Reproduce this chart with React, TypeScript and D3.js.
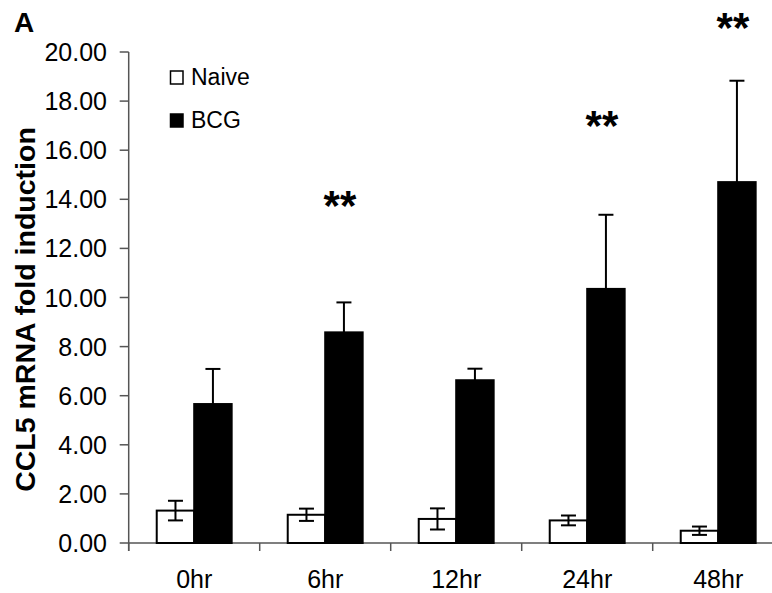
import React from "react";
import * as d3 from "d3";

const categories = ["0hr", "6hr", "12hr", "24hr", "48hr"];
const seriesNames = ["Naive", "BCG"];
const naiveValues = [1.32, 1.15, 0.98, 0.92, 0.5];
const naiveErrors = [0.4, 0.25, 0.43, 0.2, 0.17];
const bcgValues = [5.66, 8.58, 6.63, 10.35, 14.7];
const bcgErrors = [1.43, 1.22, 0.47, 3.02, 4.13];
const sigLabels = ["", "**", "", "**", "**"];
const sigLevels = [0, 14.05, 0, 17.3, 21.3];
const yTicks = [0, 2, 4, 6, 8, 10, 12, 14, 16, 18, 20];

const W = 772;
const H = 593;
const FONT = "'Liberation Sans', Arial, Helvetica, sans-serif";

export default function App() {
  const left = 128.7;
  const y0 = 543;
  const yTop = 52;
  const step = 131;
  const y = d3.scaleLinear().domain([0, 20]).range([y0, yTop]);
  const x = d3
    .scaleBand<string>()
    .domain(categories)
    .range([left, left + step * categories.length])
    .paddingInner(0.428)
    .paddingOuter(0.214);
  const xs = d3.scaleBand<string>().domain(seriesNames).range([0, x.bandwidth()]);
  const series = [
    { name: "Naive", values: naiveValues, errors: naiveErrors, fill: "#ffffff" },
    { name: "BCG", values: bcgValues, errors: bcgErrors, fill: "#000000" },
  ];
  const capW = 15;
  const axisColor = "#555";

  return (
    <svg
      width={W}
      height={H}
      style={{ position: "absolute", left: 0, top: 0, background: "#fff" }}
      fontFamily={FONT}
    >
      <rect x={0} y={0} width={W} height={H} fill="#fff" />
      {/* panel letter */}
      <text x={14} y={32} fontSize={28} fontWeight="bold">A</text>

      {/* y axis */}
      <line x1={left} x2={left} y1={y(20)} y2={y0 + 8} stroke={axisColor} strokeWidth={1.5} />
      {yTicks.map((t) => (
        <g key={t}>
          <line x1={left - 9} x2={left} y1={y(t)} y2={y(t)} stroke={axisColor} strokeWidth={1.5} />
          <text x={107} y={y(t)} dy="0.36em" textAnchor="end" fontSize={25}>
            {t.toFixed(2)}
          </text>
        </g>
      ))}
      <text
        transform={`translate(35,${(y0 + yTop) / 2 + 12}) rotate(-90)`}
        textAnchor="middle"
        fontSize={28.5}
        fontWeight="bold"
      >
        CCL5 mRNA fold induction
      </text>

      {/* x axis */}
      <line x1={left} x2={W} y1={y0} y2={y0} stroke={axisColor} strokeWidth={1.5} />
      {categories.map((c, i) => (
        <line
          key={c}
          x1={left + step * i}
          x2={left + step * i}
          y1={y0}
          y2={y0 + 8}
          stroke={axisColor}
          strokeWidth={1.5}
        />
      ))}
      {categories.map((c) => (
        <text key={c} x={(x(c) as number) + x.bandwidth() / 2} y={588} textAnchor="middle" fontSize={25}>
          {c}
        </text>
      ))}

      {/* bars and error bars */}
      {series.map((s) =>
        categories.map((c, i) => {
          const bx = (x(c) as number) + (xs(s.name) as number);
          const bw = xs.bandwidth();
          const cx = bx + bw / 2;
          const v = s.values[i];
          const e = s.errors[i];
          return (
            <g key={s.name + c}>
              <line x1={cx} x2={cx} y1={y(v - e)} y2={y(v + e)} stroke="#000" strokeWidth={2} />
              <line x1={cx - capW / 2} x2={cx + capW / 2} y1={y(v + e)} y2={y(v + e)} stroke="#000" strokeWidth={2} />
              <line x1={cx - capW / 2} x2={cx + capW / 2} y1={y(v - e)} y2={y(v - e)} stroke="#000" strokeWidth={2} />
              <rect
                x={bx}
                y={y(v)}
                width={bw}
                height={y0 - y(v)}
                fill={s.fill === "#ffffff" ? "none" : s.fill}
                stroke="#000"
                strokeWidth={2}
              />
            </g>
          );
        })
      )}

      {/* significance markers */}
      {categories.map((c, i) =>
        sigLabels[i] ? (
          <text
            key={"sig" + c}
            x={(x(c) as number) + (xs("BCG") as number) + xs.bandwidth() / 2 - 4}
            y={y(sigLevels[i]) + 22}
            textAnchor="middle"
            fontSize={42}
            fontWeight="bold"
          >
            {sigLabels[i]}
          </text>
        ) : null
      )}

      {/* legend */}
      {series.map((s, i) => (
        <g key={"leg" + s.name} transform={`translate(170,${71 + i * 43})`}>
          <rect x={0.5} y={0} width={12.5} height={13} fill={s.fill} stroke="#000" strokeWidth={1.5} />
          <text x={21} y={14} fontSize={23}>
            {s.name}
          </text>
        </g>
      ))}
    </svg>
  );
}
